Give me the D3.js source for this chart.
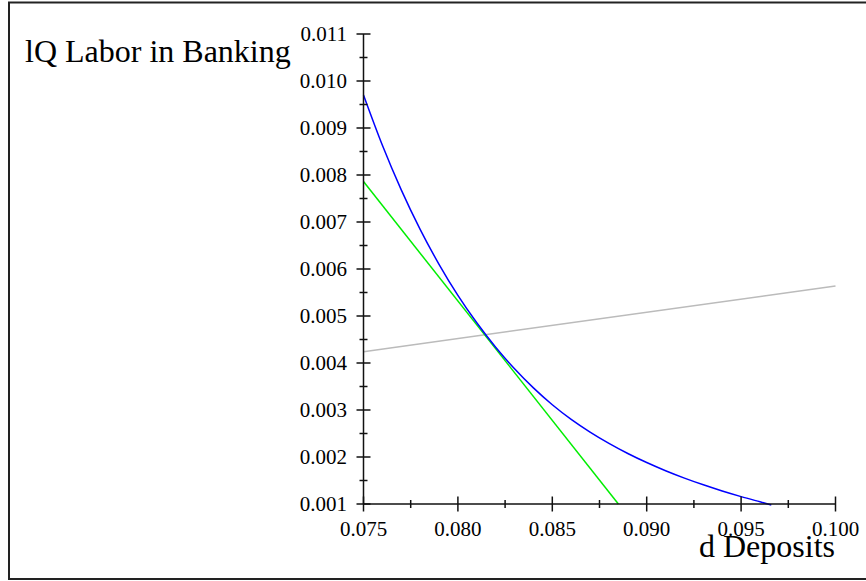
<!DOCTYPE html>
<html>
<head>
<meta charset="utf-8">
<script src="https://cdn.jsdelivr.net/npm/d3@7"></script>
<style>
  html, body { margin: 0; padding: 0; background: #fff; }
  svg { display: block; }
  text { font-family: "Liberation Serif", "Times New Roman", serif; fill: #000; }
</style>
</head>
<body>
<svg id="chart" width="866" height="581"></svg>
<script>
// Labour demand curve in banking as a function of the deposit rate
const demandD = [0.075, 0.076, 0.077, 0.078, 0.079, 0.080, 0.081, 0.082, 0.083, 0.084, 0.085,
                 0.086, 0.087, 0.088, 0.089, 0.090, 0.091, 0.092, 0.093, 0.094, 0.095, 0.096, 0.0966];
const demandQ = [0.009702, 0.008632, 0.007683, 0.006843, 0.006100, 0.005438, 0.004855, 0.004336,
                 0.003877, 0.003470, 0.003111, 0.002800, 0.002530, 0.002290, 0.002075, 0.001882,
                 0.001708, 0.001551, 0.001408, 0.001277, 0.001157, 0.001046, 0.000980];
// Tangent line at the crossing point
const tangentD = [0.075, 0.0885];
const tangentQ = [0.00786, 0.00100];
// Upward-sloping supply line
const supplyD = [0.075, 0.100];
const supplyQ = [0.00424, 0.00564];

const xMajor = [0.075, 0.080, 0.085, 0.090, 0.095, 0.100];
const yMajor = [0.001, 0.002, 0.003, 0.004, 0.005, 0.006, 0.007, 0.008, 0.009, 0.010, 0.011];

const svg = d3.select("#chart");

const x = d3.scaleLinear().domain([0.075, 0.100]).range([363.5, 835.5]);
const y = d3.scaleLinear().domain([0.001, 0.011]).range([504, 34]);

// outer frame
svg.append("path")
  .attr("d", "M866,2.5 H9 V579 H866")
  .attr("fill", "none").attr("stroke", "#222").attr("stroke-width", 2);

const line = d3.line().x(d => x(d[0])).y(d => y(d[1]));

svg.append("path")
  .datum(supplyD.map((d, i) => [d, supplyQ[i]]))
  .attr("d", line).attr("fill", "none").attr("stroke", "#bbbbbb").attr("stroke-width", 1.5);

svg.append("path")
  .datum(tangentD.map((d, i) => [d, tangentQ[i]]))
  .attr("d", line).attr("fill", "none").attr("stroke", "#00ee00").attr("stroke-width", 1.5);

svg.append("path")
  .datum(demandD.map((d, i) => [d, demandQ[i]]))
  .attr("d", line.curve(d3.curveMonotoneX)).attr("fill", "none").attr("stroke", "#0000ff").attr("stroke-width", 1.5);

// axes with major and half-step minor ticks
const axisColor = "#111";
const gx = svg.append("g");
gx.append("line").attr("x1", x(0.075)).attr("x2", x(0.100)).attr("y1", y(0.001)).attr("y2", y(0.001))
  .attr("stroke", axisColor).attr("stroke-width", 1.5);
const xMinor = xMajor.slice(0, -1).map(v => v + 0.0025);
gx.selectAll("line.maj").data(xMajor).join("line").attr("class", "maj")
  .attr("x1", d => x(d)).attr("x2", d => x(d)).attr("y1", y(0.001) - 7.5).attr("y2", y(0.001) + 7.5)
  .attr("stroke", axisColor).attr("stroke-width", 1.5);
gx.selectAll("line.min").data(xMinor).join("line").attr("class", "min")
  .attr("x1", d => x(d)).attr("x2", d => x(d)).attr("y1", y(0.001) - 4).attr("y2", y(0.001) + 4)
  .attr("stroke", axisColor).attr("stroke-width", 1.5);
gx.selectAll("text").data(xMajor).join("text")
  .attr("x", d => x(d)).attr("y", 536).attr("text-anchor", "middle")
  .attr("font-size", 21).text(d => d3.format(".3f")(d));

const gy = svg.append("g");
gy.append("line").attr("x1", x(0.075)).attr("x2", x(0.075)).attr("y1", y(0.001)).attr("y2", y(0.011))
  .attr("stroke", axisColor).attr("stroke-width", 1.5);
const yMinor = yMajor.slice(0, -1).map(v => v + 0.0005);
gy.selectAll("line.maj").data(yMajor).join("line").attr("class", "maj")
  .attr("x1", x(0.075) - 7).attr("x2", x(0.075) + 7).attr("y1", d => y(d)).attr("y2", d => y(d))
  .attr("stroke", axisColor).attr("stroke-width", 1.5);
gy.selectAll("line.min").data(yMinor).join("line").attr("class", "min")
  .attr("x1", x(0.075) - 4).attr("x2", x(0.075) + 4).attr("y1", d => y(d)).attr("y2", d => y(d))
  .attr("stroke", axisColor).attr("stroke-width", 1.5);
gy.selectAll("text").data(yMajor).join("text")
  .attr("x", 347).attr("y", d => y(d) + 7).attr("text-anchor", "end")
  .attr("font-size", 21).text(d => d3.format(".3f")(d));

// axis titles
svg.append("text").attr("x", 25).attr("y", 62).attr("font-size", 32).text("lQ Labor in Banking");
svg.append("text").attr("x", 835).attr("y", 557).attr("text-anchor", "end").attr("font-size", 32).text("d Deposits");
</script>
</body>
</html>
